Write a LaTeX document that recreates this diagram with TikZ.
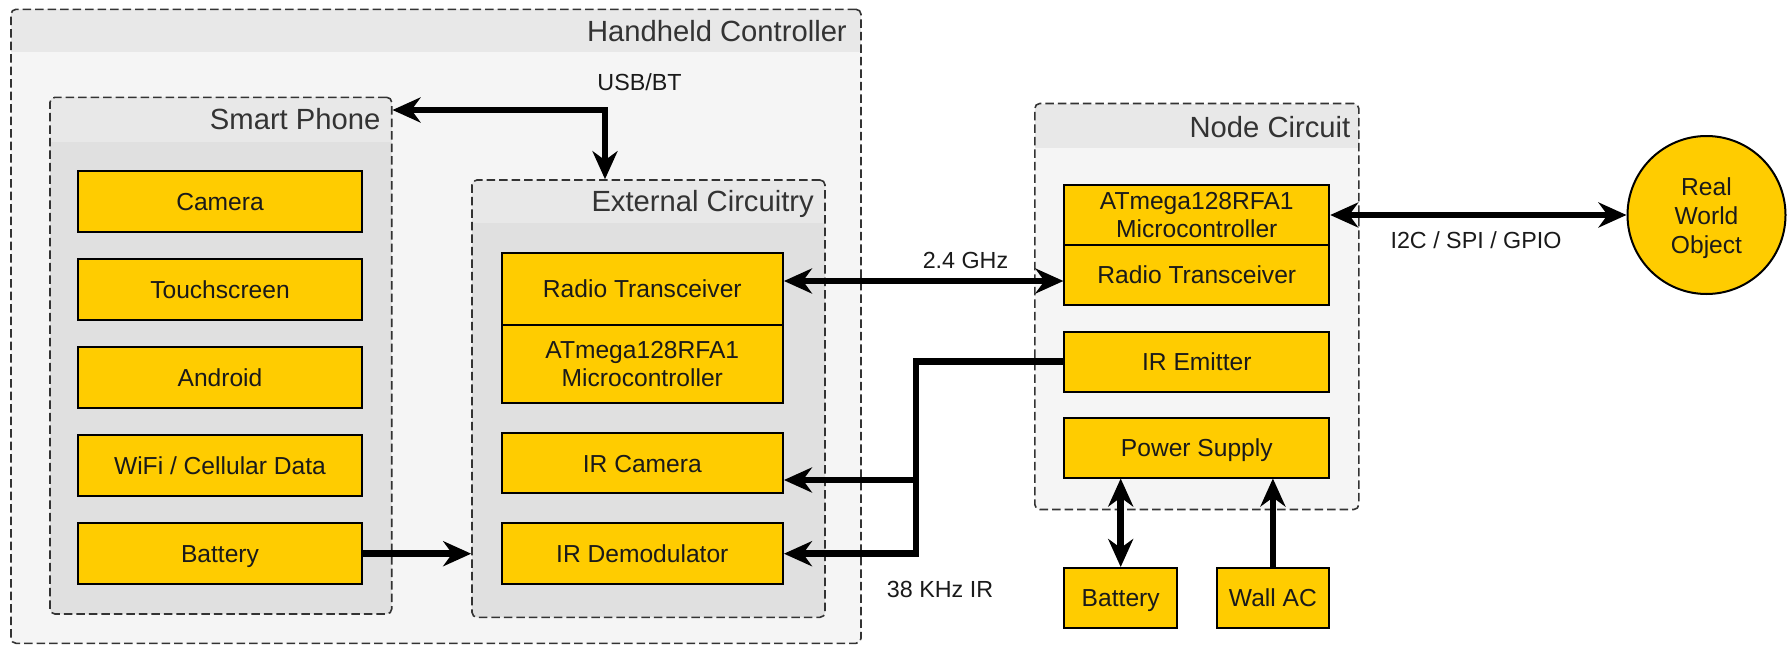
\documentclass[tikz,border=0pt]{standalone}
\usepackage{fontspec}
\setmainfont{Liberation Sans}
\usetikzlibrary{arrows.meta}
\definecolor{boxyellow}{HTML}{FFCC00}
\definecolor{hdrgray}{HTML}{E8E8E8}
\definecolor{lightbody}{HTML}{F5F5F5}
\definecolor{darkbody}{HTML}{E0E0E0}
\definecolor{bordergray}{HTML}{333333}
\definecolor{txt}{HTML}{1A1A1A}
\begin{document}
\begin{tikzpicture}[x=1pt,y=-1pt,
  >={Stealth[length=28pt,width=25pt,inset=9pt]},
  comp/.style={draw=black, line width=2pt, fill=boxyellow, inner sep=0pt, align=center, text=txt,
    font=\fontsize{24.6}{28.5}\selectfont},
  one/.style={text height=23pt, text depth=5.5pt},
  container/.style 2 args={draw=bordergray, line width=1.6pt, dash pattern=on 8.5pt off 4pt,
    fill=#1, rounded corners=5pt, inner sep=0pt,
    path picture={\fill[hdrgray, sharp corners] (path picture bounding box.north west) rectangle ([yshift=-#2]path picture bounding box.north east);}},
  title/.style={inner sep=0pt, text=bordergray, font=\fontsize{29.2}{33}\selectfont},
  lbl/.style={inner sep=0pt, text=txt, font=\fontsize{23.3}{27}\selectfont},
  link/.style={draw=black, line width=6.5pt}
]
\useasboundingbox (0,0) rectangle (1789,645);
\fill[white] (0,0) rectangle (1789,645);

% containers
\node[container={lightbody}{42.4pt}, minimum width=850pt, minimum height=634pt] (hand) at (436,326.3) {};
\node[title, anchor=base east] (handt) at (847,41.7) {Handheld Controller};

\node[container={darkbody}{44.4pt}, minimum width=341.7pt, minimum height=516.7pt] (phone) at (220.85,355.65) {};
\node[title, anchor=base east] (phonet) at (380.6,129) {Smart Phone};

\node[container={darkbody}{42.7pt}, minimum width=353pt, minimum height=437.3pt] (ext) at (648.5,398.65) {};
\node[title, anchor=base east] (extt) at (814,211.7) {External Circuitry};

\node[container={lightbody}{44.9pt}, minimum width=324pt, minimum height=406pt] (nodec) at (1196.8,306.5) {};
\node[title, anchor=base east] (nodect) at (1350.5,137.8) {Node Circuit};

% smart phone parts
\node[comp, one, minimum width=283.4pt, minimum height=61pt] (cam) at (220,201.5) {Camera};
\node[comp, one, minimum width=283.4pt, minimum height=61pt] (touch) at (220,289.5) {Touchscreen};
\node[comp, one, minimum width=283.4pt, minimum height=61pt] (andr) at (220,377.5) {Android};
\node[comp, one, minimum width=283.4pt, minimum height=61pt] (wifi) at (220,465.7) {WiFi / Cellular Data};
\node[comp, one, minimum width=283.4pt, minimum height=61pt] (pbat) at (220,553.7) {Battery};

% external circuitry parts
\node[comp, one, minimum width=281.3pt, minimum height=71.7pt] (eradio) at (642.3,289.2) {Radio Transceiver};
\node[comp, minimum width=281.3pt, minimum height=78.3pt] (eatm) at (642.3,364.2) {ATmega128RFA1\\Microcontroller};
\node[comp, one, minimum width=281.3pt, minimum height=60pt] (ircam) at (642.3,463.3) {IR Camera};
\node[comp, one, minimum width=281.3pt, minimum height=61pt] (irdem) at (642.3,553.7) {IR Demodulator};

% node circuit parts
\node[comp, minimum width=264.8pt, minimum height=60pt] (natm) at (1196.8,215) {ATmega128RFA1\\Microcontroller};
\node[comp, one, minimum width=264.8pt, minimum height=60pt] (nradio) at (1196.8,275.1) {Radio Transceiver};
\node[comp, one, minimum width=264.8pt, minimum height=60pt] (irem) at (1196.8,361.5) {IR Emitter};
\node[comp, one, minimum width=264.8pt, minimum height=60pt] (ps) at (1196.8,447.5) {Power Supply};
\node[comp, one, minimum width=112.6pt, minimum height=60pt] (nbat) at (1120.7,598) {Battery};
\node[comp, one, minimum width=112.6pt, minimum height=60pt] (wall) at (1272.9,598) {Wall AC};

\node[comp, circle, minimum size=158pt, font=\fontsize{24.6}{29}\selectfont,
  text height=76pt, text depth=0pt] (rwo) at (1706.5,215) {Real\\World\\Object};

% connectors
\coordinate (usbc) at (605,110);
\draw[link,<->] (usbc -| phone.east) -- (usbc) -- (usbc |- ext.north);
\draw[link,->] (pbat.east) -- (pbat.east -| ext.west);
\coordinate (ghz) at (0,281);
\draw[link,<->] (eradio.east |- ghz) -- (nradio.west |- ghz);
\coordinate (irx) at (916,0);
\draw[link,->] (irem.west) -- (irem.west -| irx) |- (irdem.east);
\coordinate (irj) at (916,480);
\draw[link,->] (irj) -- (irj -| ircam.east);
\draw[link,<->] (natm.east) -- (rwo.west);
\draw[link,<->] (nbat.north) -- (nbat.north |- ps.south);
\draw[link,->] (wall.north) -- (wall.north |- ps.south);

% labels
\node[lbl, anchor=base] (lusb) at (639.5,90) {USB/BT};
\node[lbl, anchor=base] (lghz) at (965.5,268) {2.4 GHz};
\node[lbl, anchor=base] (li2c) at (1476,248.6) {I2C / SPI / GPIO};
\node[lbl, anchor=base] (lir) at (940,597) {38 KHz IR};
\end{tikzpicture}
\end{document}
